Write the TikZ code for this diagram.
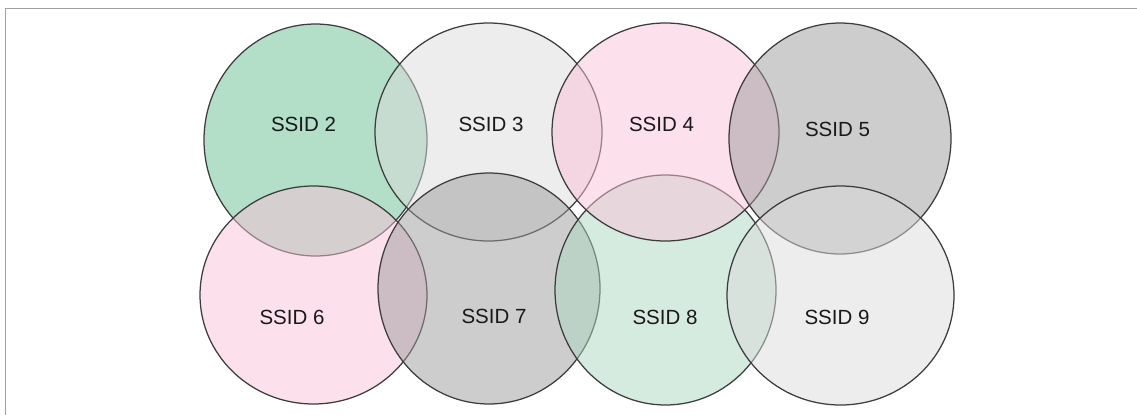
\documentclass[tikz,border=0pt]{standalone}
\usepackage{fontspec}
\setmainfont{Liberation Sans}
\usetikzlibrary{shapes.geometric}

\definecolor{ssidgreen}{RGB}{103,189,145}
\definecolor{ssidlgreen}{RGB}{173,215,191}
\definecolor{ssidpink}{RGB}{249,193,215}
\definecolor{ssidgray}{RGB}{155,155,155}
\definecolor{ssidlgray}{RGB}{219,219,219}
\definecolor{cellline}{RGB}{60,60,60}
\definecolor{framegray}{RGB}{160,160,160}

\begin{document}
\begin{tikzpicture}[x=1pt,y=-1pt,cell node/.style={ellipse,draw=cellline,line width=1.25pt,fill opacity=0.5,inner sep=0pt,outer sep=0pt},name node/.style={font=\fontsize{20.5}{24}\selectfont,text=black!90}]
            \useasboundingbox (0,0) rectangle (1137,415);
            \draw[framegray,line width=1pt] (5,415) -- (5,8) -- (1137,8);

            % coverage cells
            \node[cell node] (2) [fill=ssidgreen,minimum width=223pt,minimum height=232pt] at (315.5,140) {};
            \node[cell node] (6) [fill=ssidpink,minimum width=227pt,minimum height=218pt] at (313.5,295) {};
            \node[cell node] (3) [fill=ssidlgray,minimum width=227pt,minimum height=218pt] at (488.5,132) {};
            \node[cell node] (7) [fill=ssidgray,minimum width=222pt,minimum height=231pt] at (489,288.5) {};
            \node[cell node] (8) [fill=ssidlgreen,minimum width=221pt,minimum height=230pt] at (665.5,290) {};
            \node[cell node] (4) [fill=ssidpink,minimum width=227pt,minimum height=218pt] at (665.5,132) {};
            \node[cell node] (5) [fill=ssidgray,minimum width=222pt,minimum height=231pt] at (840,138.5) {};
            \node[cell node] (9) [fill=ssidlgray,minimum width=227pt,minimum height=219pt] at (840.5,295.5) {};

            % names
            \node[name node] (t2) at (303.5,124.5) {SSID 2};
            \node[name node] (t3) at (491,124.5) {SSID 3};
            \node[name node] (t4) at (661.5,124.5) {SSID 4};
            \node[name node] (t5) at (837.5,129.5) {SSID 5};
            \node[name node] (t6) at (292,317.5) {SSID 6};
            \node[name node] (t7) at (494,316) {SSID 7};
            \node[name node] (t8) at (665,317.5) {SSID 8};
            \node[name node] (t9) at (837,317.5) {SSID 9};
        \end{tikzpicture}
\end{document}
